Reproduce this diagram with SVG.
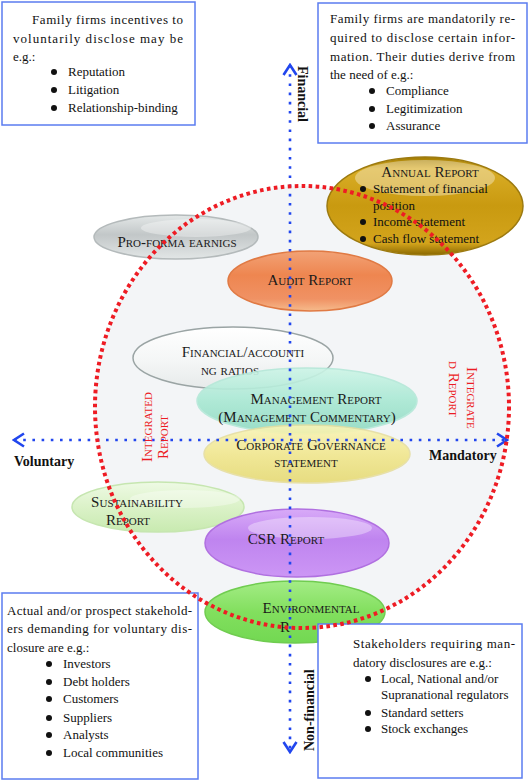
<svg xmlns="http://www.w3.org/2000/svg" width="529" height="782" viewBox="0 0 529 782">
<defs>
<style>
.t{font-family:"Liberation Serif","Times New Roman",serif;font-size:13px;fill:#111}
.sc{font-family:"Liberation Serif","Times New Roman",serif;font-size:15px;font-variant:small-caps;fill:#1a1a1a;text-anchor:middle}
.ax{font-family:"Liberation Serif","Times New Roman",serif;font-size:14px;font-weight:bold;fill:#111}
.ir{font-family:"Liberation Serif","Times New Roman",serif;font-size:15px;font-variant:small-caps;fill:#ec1c24}
.box{fill:#ffffff;stroke:#5b7cf0;stroke-width:1.5}
.bul{fill:#111}
.axis{fill:none;stroke:#2146ee;stroke-width:2.6;stroke-dasharray:2.6 6.6}
.ring{fill:none;stroke:#ee1c24;stroke-width:4;stroke-dasharray:3.6 3.4}
.hl{fill:#fff;opacity:0.35}
</style>
<marker id="chev" viewBox="-12 -8 14 16" refX="0" refY="0" markerWidth="14" markerHeight="16" markerUnits="userSpaceOnUse" orient="auto-start-reverse">
<path d="M-10,-6.5 L0,0 L-10,6.5" fill="none" stroke="#2146ee" stroke-width="2.6"/>
</marker>
<linearGradient id="gGold" x1="0" y1="0" x2="0" y2="1">
<stop offset="0" stop-color="#a07a00"/><stop offset="0.12" stop-color="#d9ad26"/><stop offset="0.5" stop-color="#c99a10"/><stop offset="0.88" stop-color="#d3a41c"/><stop offset="1" stop-color="#8a6800"/>
</linearGradient>
<linearGradient id="gGrey" x1="0" y1="0" x2="0" y2="1">
<stop offset="0" stop-color="#e4e8e8"/><stop offset="0.45" stop-color="#c2c7c8"/><stop offset="1" stop-color="#e2e6e6"/>
</linearGradient>
<linearGradient id="gOrange" x1="0" y1="0" x2="0" y2="1">
<stop offset="0" stop-color="#f2a276"/><stop offset="0.4" stop-color="#ee8650"/><stop offset="0.8" stop-color="#f09264"/><stop offset="1" stop-color="#f6bb8c"/>
</linearGradient>
<linearGradient id="gWhite" x1="0" y1="0" x2="0" y2="1">
<stop offset="0" stop-color="#ffffff"/><stop offset="0.55" stop-color="#f4f6f6"/><stop offset="1" stop-color="#e6eaea"/>
</linearGradient>
<linearGradient id="gTeal" x1="0" y1="0" x2="0" y2="1">
<stop offset="0" stop-color="#cdf5e7"/><stop offset="0.5" stop-color="#a8e8d3"/><stop offset="1" stop-color="#90dac2"/>
</linearGradient>
<linearGradient id="gYellow" x1="0" y1="0" x2="0" y2="1">
<stop offset="0" stop-color="#faf5b8"/><stop offset="0.5" stop-color="#f1e78e"/><stop offset="1" stop-color="#e6da74"/>
</linearGradient>
<linearGradient id="gLGreen" x1="0" y1="0" x2="0" y2="1">
<stop offset="0" stop-color="#eefae4"/><stop offset="0.5" stop-color="#dbf2c8"/><stop offset="1" stop-color="#c8eab0"/>
</linearGradient>
<linearGradient id="gPurple" x1="0" y1="0" x2="0" y2="1">
<stop offset="0" stop-color="#d8aaf8"/><stop offset="0.45" stop-color="#bf84ef"/><stop offset="1" stop-color="#cc96f5"/>
</linearGradient>
<linearGradient id="gGreen" x1="0" y1="0" x2="0" y2="1">
<stop offset="0" stop-color="#a4ec86"/><stop offset="0.5" stop-color="#82df5e"/><stop offset="1" stop-color="#72d852"/>
</linearGradient>
</defs>

<rect x="0" y="0" width="529" height="782" fill="#ffffff"/>
<ellipse cx="302" cy="407" rx="207" ry="221" fill="#f3f5f7"/>

<g id="node-proforma">
<ellipse cx="176" cy="237" rx="82" ry="22" fill="url(#gGrey)" stroke="#b4babb" stroke-width="1.5"/>
<ellipse cx="196" cy="228" rx="55" ry="9" class="hl"/>
<text class="sc" x="177" y="247">Pro-forma earnigs</text>
</g>

<g id="node-annual">
<ellipse cx="425" cy="206" rx="98" ry="49" fill="url(#gGold)" stroke="#9c7a10" stroke-width="1.5"/>
<ellipse cx="425" cy="178" rx="70" ry="18" class="hl" opacity="0.18"/>
<text class="sc" x="430" y="177">Annual Report</text>
<circle class="bul" cx="363" cy="189" r="3"/>
<text class="t" x="373" y="193">Statement of financial</text>
<text class="t" x="373" y="210">position</text>
<circle class="bul" cx="363" cy="222" r="3"/>
<text class="t" x="373" y="226">Income statement</text>
<circle class="bul" cx="363" cy="239" r="3"/>
<text class="t" x="373" y="243">Cash flow statement</text>
</g>

<g id="node-audit">
<ellipse cx="310" cy="281" rx="82" ry="30" fill="url(#gOrange)" stroke="#e07a44" stroke-width="1.5"/>
<text class="sc" x="310" y="285">Audit Report</text>
</g>

<g id="node-ratios">
<ellipse cx="233" cy="358" rx="100" ry="31" fill="url(#gWhite)" stroke="#9aa4a4" stroke-width="1.5"/>
<text class="sc" x="243" y="357">Financial/accounti</text>
<text class="sc" x="230" y="375">ng ratios</text>
</g>

<g id="node-management">
<ellipse cx="307" cy="401" rx="110" ry="33" fill="url(#gTeal)" stroke="#b4e8d8" stroke-width="1.5" opacity="0.9"/>
<text class="sc" x="316" y="404">Management Report</text>
<text class="sc" x="307" y="422">(Management Commentary)</text>
</g>

<g id="node-governance">
<ellipse cx="307" cy="454" rx="103" ry="29" fill="url(#gYellow)" stroke="#e6dea0" stroke-width="1.5" opacity="0.9"/>
<text class="sc" x="311" y="450">Corporate Governance</text>
<text class="sc" x="306" y="467">statement</text>
</g>

<g id="node-sustainability">
<ellipse cx="158" cy="507" rx="86" ry="25" fill="url(#gLGreen)" stroke="#c6e6b0" stroke-width="1.5"/>
<ellipse cx="185" cy="499" rx="55" ry="9" class="hl" opacity="0.5"/>
<text class="sc" x="137" y="507">Sustainability</text>
<text class="sc" x="128" y="525">Report</text>
</g>

<g id="node-csr">
<ellipse cx="297" cy="543" rx="92" ry="34" fill="url(#gPurple)" stroke="#b070e0" stroke-width="1.5"/>
<ellipse cx="310" cy="528" rx="62" ry="11" class="hl" opacity="0.2"/>
<text class="sc" x="286" y="544">CSR Report</text>
</g>

<g id="node-environmental">
<ellipse cx="295" cy="612" rx="90" ry="31" fill="url(#gGreen)" stroke="#70cc50" stroke-width="1.5"/>
<text class="sc" x="311" y="613">Environmental</text>
<text class="sc" x="285" y="632">R</text>
</g>

<g id="box-voluntary-incentives">
<rect class="box" x="2" y="2" width="193" height="123"/>
<text class="t" x="32" y="24" textLength="151" lengthAdjust="spacing">Family firms incentives to</text>
<text class="t" x="13" y="43" textLength="170" lengthAdjust="spacing">voluntarily disclose may be</text>
<text class="t" x="13" y="61">e.g.:</text>
<circle class="bul" cx="54" cy="72" r="3"/>
<text class="t" x="68" y="76">Reputation</text>
<circle class="bul" cx="54" cy="90" r="3"/>
<text class="t" x="68" y="94">Litigation</text>
<circle class="bul" cx="54" cy="108" r="3"/>
<text class="t" x="68" y="112">Relationship-binding</text>
</g>

<g id="box-mandatory-duties">
<rect class="box" x="318" y="3" width="209" height="140"/>
<text class="t" x="330" y="23" textLength="185" lengthAdjust="spacing">Family firms are mandatorily re-</text>
<text class="t" x="330" y="42" textLength="185" lengthAdjust="spacing">quired to disclose certain infor-</text>
<text class="t" x="330" y="61" textLength="185" lengthAdjust="spacing">mation. Their duties derive from</text>
<text class="t" x="330" y="79">the need of e.g.:</text>
<circle class="bul" cx="372" cy="91" r="3"/>
<text class="t" x="386" y="95">Compliance</text>
<circle class="bul" cx="372" cy="109" r="3"/>
<text class="t" x="386" y="113">Legitimization</text>
<circle class="bul" cx="372" cy="126" r="3"/>
<text class="t" x="386" y="130">Assurance</text>
</g>

<g id="box-voluntary-stakeholders">
<rect class="box" x="2" y="593" width="196" height="186"/>
<text class="t" x="7" y="615" textLength="185" lengthAdjust="spacing">Actual and/or prospect stakehold-</text>
<text class="t" x="7" y="633" textLength="185" lengthAdjust="spacing">ers demanding for voluntary dis-</text>
<text class="t" x="7" y="652">closure are e.g.:</text>
<circle class="bul" cx="49" cy="664" r="3"/>
<text class="t" x="63" y="668">Investors</text>
<circle class="bul" cx="49" cy="682" r="3"/>
<text class="t" x="63" y="686">Debt holders</text>
<circle class="bul" cx="49" cy="699" r="3"/>
<text class="t" x="63" y="703">Customers</text>
<circle class="bul" cx="49" cy="718" r="3"/>
<text class="t" x="63" y="722">Suppliers</text>
<circle class="bul" cx="49" cy="735" r="3"/>
<text class="t" x="63" y="739">Analysts</text>
<circle class="bul" cx="49" cy="753" r="3"/>
<text class="t" x="63" y="757">Local communities</text>
</g>

<g id="box-mandatory-stakeholders">
<rect class="box" x="318" y="624" width="204" height="154"/>
<text class="t" x="353" y="648" textLength="162" lengthAdjust="spacing">Stakeholders requiring man-</text>
<text class="t" x="353" y="667">datory disclosures are e.g.:</text>
<circle class="bul" cx="368" cy="679" r="3"/>
<text class="t" x="381" y="683">Local, National and/or</text>
<text class="t" x="381" y="699">Supranational regulators</text>
<circle class="bul" cx="368" cy="713" r="3"/>
<text class="t" x="381" y="717">Standard setters</text>
<circle class="bul" cx="368" cy="729" r="3"/>
<text class="t" x="381" y="733">Stock exchanges</text>
</g>

<g id="connectors">
<line class="axis" x1="14" y1="440" x2="507" y2="440" marker-start="url(#chev)" marker-end="url(#chev)"/>
<line class="axis" x1="290" y1="65" x2="290" y2="752" marker-start="url(#chev)" marker-end="url(#chev)"/>
</g>

<g id="integrated-boundary">
<ellipse class="ring" cx="302" cy="407" rx="207" ry="221"/>
<text class="ir" transform="translate(152,427) rotate(-90)" text-anchor="middle">Integrated</text>
<text class="ir" transform="translate(168,437) rotate(-90)" text-anchor="middle">Report</text>
<text class="ir" transform="translate(467,367) rotate(90)">Integrate</text>
<text class="ir" transform="translate(449,361) rotate(90)">d Report</text>
</g>

<g id="axis-labels">
<text class="ax" transform="translate(298,66) rotate(90)">Financial</text>
<text class="ax" transform="translate(314,751) rotate(-90)">Non-financial</text>
<text class="ax" x="14" y="466">Voluntary</text>
<text class="ax" x="429" y="460">Mandatory</text>
</g>
</svg>
